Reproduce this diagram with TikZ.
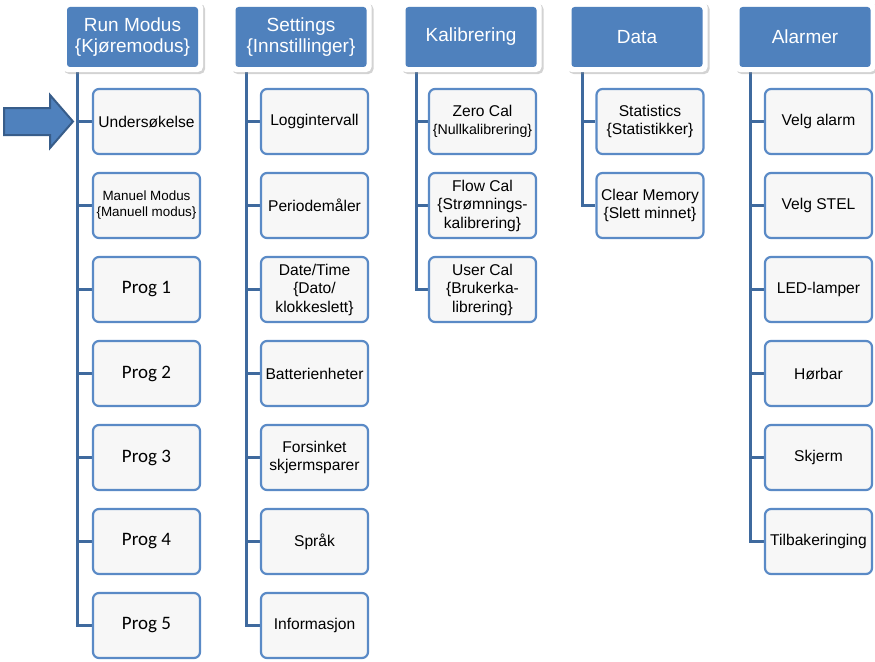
\documentclass[tikz,border=0pt]{standalone}
\usepackage{fontspec}
\setmainfont{Liberation Sans}
\newfontfamily\calibri{Carlito}
\usetikzlibrary{shadows,calc,backgrounds}
\definecolor{hdrblue}{HTML}{4F81BD}
\definecolor{edgeblue}{HTML}{5A8AC6}
\definecolor{trunkblue}{HTML}{3F6A9E}
\definecolor{arrowedge}{HTML}{385D8A}
\tikzset{
  hframe/.style={fill=white, rounded corners=5pt, minimum width=141pt, minimum height=70pt, inner sep=0pt,
    drop shadow={shadow xshift=2pt, shadow yshift=-2pt, opacity=0.35}},
  hdr/.style={fill=hdrblue, rounded corners=3pt, minimum width=131pt, minimum height=60pt, inner sep=0pt,
    text=white, font=\fontsize{19}{20.5}\selectfont, align=center},
  item/.style={draw=edgeblue, line width=2.2pt, fill=white!97!black, rounded corners=6pt,
    minimum width=107pt, minimum height=65pt, inner sep=1pt, align=center, font=\fontsize{15.6}{18.5}\selectfont},
  progitem/.style={item, font=\calibri\fontsize{19}{21}\selectfont},
  trunk/.style={draw=trunkblue, line width=3pt},
  bigarrow/.style={fill=hdrblue, draw=arrowedge, line width=2pt, line join=miter},
}
\begin{document}
\begin{tikzpicture}[x=1pt,y=-1pt]
\useasboundingbox (0,0) rectangle (875,661);
% headers
\node[hframe] (fRM) at (132.5,37) {};
\node[hdr] (hRM) at (132.5,37) {Run Modus\\\{Kjøremodus\}};
\node[hframe] (fST) at (301,37) {};
\node[hdr] (hST) at (301,37) {Settings\\\{Innstillinger\}};
\node[hframe] (fKA) at (471,37) {};
\node[hdr] (hKA) at (471,37) {Kalibrering};
\node[hframe] (fDA) at (637,37) {};
\node[hdr] (hDA) at (637,37) {Data};
\node[hframe] (fAL) at (805,37) {};
\node[hdr] (hAL) at (805,37) {Alarmer};
% Run Modus children
\node[item] (r1) at (146.5,121.5) {Undersøkelse};
\node[item, font=\fontsize{13.4}{16}\selectfont] (r2) at (146.5,205.5) {Manuel Modus\\\{Manuell modus\}};
\node[progitem] (r3) at (146.5,289.5) {Prog 1};
\node[progitem] (r4) at (146.5,373.5) {Prog 2};
\node[progitem] (r5) at (146.5,457.5) {Prog 3};
\node[progitem] (r6) at (146.5,541.5) {Prog 4};
\node[progitem] (r7) at (146.5,625.5) {Prog 5};
% Settings children
\node[item] (s1) at (314.5,121.5) {Loggintervall};
\node[item] (s2) at (314.5,205.5) {Periodemåler};
\node[item] (s3) at (314.5,289.5) {Date/Time\\\{Dato/\\klokkeslett\}};
\node[item] (s4) at (314.5,373.5) {Batterienheter};
\node[item] (s5) at (314.5,457.5) {Forsinket\\skjermsparer};
\node[item] (s6) at (314.5,541.5) {Språk};
\node[item] (s7) at (314.5,625.5) {Informasjon};
% Kalibrering children
\node[item] (k1) at (482.5,121.5) {Zero Cal\\{\fontsize{14.2}{17}\selectfont\{Nullkalibrering\}}};
\node[item] (k2) at (482.5,205.5) {Flow Cal\\\{Strømnings-\\kalibrering\}};
\node[item] (k3) at (482.5,289.5) {User Cal\\\{Brukerka-\\librering\}};
% Data children
\node[item] (d1) at (650,121.5) {Statistics\\\{Statistikker\}};
\node[item] (d2) at (650,205.5) {Clear Memory\\\{Slett minnet\}};
% Alarmer children
\node[item] (a1) at (818.5,121.5) {Velg alarm};
\node[item] (a2) at (818.5,205.5) {Velg STEL};
\node[item] (a3) at (818.5,289.5) {LED-lamper};
\node[item] (a4) at (818.5,373.5) {Hørbar};
\node[item] (a5) at (818.5,457.5) {Skjerm};
\node[item] (a6) at (818.5,541.5) {Tilbakeringing};
% trunk start points
\coordinate (tRM) at ($(hRM.south west)+(11,0)$);
\coordinate (tST) at ($(hST.south west)+(11,0)$);
\coordinate (tKA) at ($(hKA.south west)+(11,0)$);
\coordinate (tDA) at ($(hDA.south west)+(11,0)$);
\coordinate (tAL) at ($(hAL.south west)+(11,0)$);
\begin{scope}[on background layer]
\foreach \c in {r1,r2,r3,r4,r5,r6,r7} \draw[trunk] (tRM) |- (\c.west);
\foreach \c in {s1,s2,s3,s4,s5,s6,s7} \draw[trunk] (tST) |- (\c.west);
\foreach \c in {k1,k2,k3} \draw[trunk] (tKA) |- (\c.west);
\foreach \c in {d1,d2} \draw[trunk] (tDA) |- (\c.west);
\foreach \c in {a1,a2,a3,a4,a5,a6} \draw[trunk] (tAL) |- (\c.west);
\end{scope}
% pointer arrow
\draw[bigarrow] (4,108) -- (50,108) -- (50,95) -- (73,121.5) -- (50,148) -- (50,135) -- (4,135) -- cycle;
\end{tikzpicture}
\end{document}
